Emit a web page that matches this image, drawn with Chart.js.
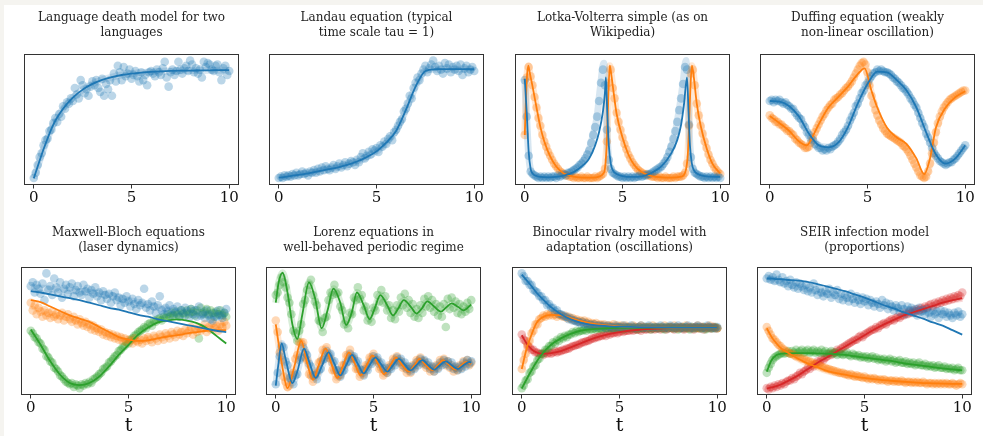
<!DOCTYPE html>
<html>
<head>
<meta charset="utf-8">
<script src="https://cdn.jsdelivr.net/npm/chart.js@4.4.1/dist/chart.umd.min.js"></script>
<style>
  html, body { margin: 0; padding: 0; background: #fff; }
  body { width: 983px; height: 436px; position: relative; overflow: hidden; }
  .strip { position: absolute; background: #f5f4f0; }
  canvas { position: absolute; }
</style>
</head>
<body>
<div class="strip" style="left:0;top:0;width:983px;height:5px"></div>
<div class="strip" style="left:0;top:0;width:4px;height:436px"></div>
<script>
// ---- shared axes ----
const xTicks = [0, 5, 10];
const tScatter = [0,0.1,0.2,0.3,0.4,0.5,0.6,0.7,0.8,0.9,1,1.1,1.2,1.3,1.4,1.5,1.6,1.7,1.8,1.9,
  2,2.1,2.2,2.3,2.4,2.5,2.6,2.7,2.8,2.9,3,3.1,3.2,3.3,3.4,3.5,3.6,3.7,3.8,3.9,
  4,4.1,4.2,4.3,4.4,4.5,4.6,4.7,4.8,4.9,5,5.1,5.2,5.3,5.4,5.5,5.6,5.7,5.8,5.9,
  6,6.1,6.2,6.3,6.4,6.5,6.6,6.7,6.8,6.9,7,7.1,7.2,7.3,7.4,7.5,7.6,7.7,7.8,7.9,
  8,8.1,8.2,8.3,8.4,8.5,8.6,8.7,8.8,8.9,9,9.1,9.2,9.3,9.4,9.5,9.6,9.7,9.8,9.9,10];
const tHalf = [0,0.5,1,1.5,2,2.5,3,3.5,4,4.5,5,5.5,6,6.5,7,7.5,8,8.5,9,9.5,10];

// ---- 1. language death ----
const langLine = [0.047,0.27,0.459,0.58,0.666,0.727,0.771,0.802,0.823,0.839,0.85,0.857,0.863,0.867,0.87,0.872,0.873,0.874,0.875,0.876,0.876];
const langPts = [0.05,0.09,0.15,0.21,0.24,0.30,0.34,0.35,0.41,0.42,
  0.47,0.51,0.48,0.54,0.52,0.60,0.58,0.63,0.62,0.66,
  0.64,0.74,0.69,0.66,0.80,0.76,0.70,0.73,0.68,0.75,
  0.79,0.76,0.80,0.74,0.71,0.81,0.68,0.77,0.73,0.80,
  0.68,0.85,0.79,0.91,0.86,0.80,0.90,0.83,0.85,0.88,
  0.81,0.84,0.87,0.83,0.79,0.86,0.80,0.84,0.76,0.86,
  0.87,0.85,0.83,0.88,0.86,0.84,0.89,0.94,0.82,0.75,
  0.86,0.88,0.84,0.87,0.94,0.88,0.85,0.89,0.91,0.87,
  0.95,0.92,0.86,0.89,0.85,0.88,0.82,0.94,0.90,0.93,
  0.92,0.88,0.87,0.91,0.92,0.86,0.80,0.89,0.91,0.84,0.87];

// ---- 2. Landau ----
const landauLine = [0.052,0.062,0.073,0.086,0.10,0.115,0.13,0.15,0.176,0.21,0.254,0.32,0.41,0.57,0.75,0.87,0.883,0.884,0.884,0.883,0.883];
const landauPts = [0.05,0.06,0.05,0.07,0.06,0.07,0.06,0.08,0.07,0.09,
  0.07,0.08,0.10,0.08,0.09,0.07,0.10,0.09,0.11,0.09,
  0.12,0.10,0.13,0.11,0.14,0.12,0.11,0.13,0.15,0.12,
  0.14,0.16,0.13,0.15,0.17,0.14,0.16,0.18,0.17,0.15,
  0.19,0.17,0.21,0.24,0.20,0.22,0.25,0.23,0.27,0.26,
  0.28,0.25,0.30,0.29,0.33,0.31,0.35,0.37,0.34,0.40,
  0.42,0.45,0.48,0.50,0.56,0.58,0.62,0.68,0.66,0.74,
  0.78,0.82,0.80,0.85,0.88,0.91,0.86,0.89,0.92,0.95,
  0.90,0.87,0.91,0.88,0.85,0.93,0.89,0.92,0.86,0.90,
  0.88,0.91,0.87,0.92,0.84,0.89,0.91,0.86,0.88,0.90,0.87];

// ---- 3. Lotka-Volterra ----
const lvPreyLineT = [0,0.1,0.2,0.3,0.4,0.6,0.8,1.2,1.6,2,2.5,3,3.3,3.6,3.8,4,4.1,4.15,4.22,4.3,4.4,4.5,4.7,5,5.5,6,6.5,7,7.5,7.8,8,8.15,8.3,8.38,8.45,8.55,8.65,8.85,9.2,10];
const lvPreyLine = [0.81,0.55,0.25,0.12,0.085,0.065,0.058,0.055,0.058,0.068,0.095,0.15,0.20,0.30,0.40,0.56,0.70,0.82,0.55,0.30,0.16,0.11,0.08,0.065,0.058,0.062,0.09,0.14,0.24,0.34,0.46,0.62,0.82,0.55,0.30,0.16,0.11,0.08,0.065,0.058];
const lvPreyBandT = [0,0.1,0.2,0.3,0.45,0.7,1.2,1.6,2,2.5,3,3.3,3.5,3.7,3.85,4.05,4.15,4.25,4.35,4.5,4.8,5.3,6,6.5,7,7.4,7.7,7.95,8.1,8.25,8.35,8.45,8.55,8.7,9,10];
const lvPreyBand = [0.81,0.50,0.22,0.11,0.075,0.06,0.055,0.06,0.075,0.11,0.18,0.27,0.38,0.52,0.72,0.93,0.60,0.28,0.14,0.09,0.065,0.055,0.06,0.085,0.13,0.25,0.40,0.62,0.78,0.95,0.62,0.30,0.15,0.09,0.065,0.055];
const lvPreyPts = [0.80,0.52,0.22,0.10,0.08,0.07,0.06,0.05,0.06,0.05,
  0.06,0.05,0.06,0.05,0.06,0.06,0.05,0.07,0.06,0.07,
  0.08,0.07,0.09,0.09,0.10,0.11,0.12,0.13,0.15,0.16,
  0.18,0.20,0.23,0.26,0.32,0.38,0.44,0.52,0.64,0.78,
  0.88,0.76,0.42,0.19,0.12,0.09,0.08,0.07,0.06,0.06,
  0.05,0.06,0.05,0.06,0.05,0.06,0.05,0.06,0.06,0.07,
  0.06,0.07,0.07,0.08,0.08,0.09,0.10,0.11,0.12,0.13,
  0.14,0.16,0.18,0.21,0.25,0.29,0.35,0.41,0.48,0.57,
  0.66,0.77,0.90,0.88,0.46,0.21,0.12,0.09,0.08,0.07,
  0.06,0.06,0.05,0.06,0.05,0.06,0.05,0.06,0.05,0.06,0.05];
const lvPredLineT = [0,0.05,0.1,0.18,0.25,0.4,0.6,0.8,1,1.3,1.6,2,2.5,3,3.5,3.8,4,4.1,4.2,4.28,4.35,4.42,4.55,4.7,5,5.3,5.6,6,6.5,7,7.5,8,8.2,8.35,8.45,8.55,8.65,8.8,9,9.3,9.6,10];
const lvPredLine = [0.38,0.60,0.80,0.91,0.86,0.75,0.59,0.44,0.33,0.215,0.14,0.085,0.06,0.052,0.052,0.06,0.08,0.12,0.33,0.70,0.91,0.85,0.70,0.54,0.36,0.23,0.15,0.093,0.065,0.055,0.053,0.06,0.09,0.25,0.65,0.91,0.82,0.62,0.45,0.28,0.16,0.085];
const lvPredPts = [0.38,0.82,0.90,0.83,0.76,0.67,0.59,0.51,0.45,0.38,
  0.33,0.29,0.25,0.22,0.19,0.16,0.14,0.12,0.10,0.09,
  0.08,0.07,0.07,0.06,0.06,0.05,0.06,0.05,0.05,0.06,
  0.05,0.05,0.06,0.05,0.05,0.05,0.06,0.05,0.06,0.07,
  0.08,0.12,0.33,0.78,0.88,0.74,0.66,0.55,0.48,0.42,
  0.36,0.31,0.27,0.23,0.20,0.17,0.15,0.13,0.11,0.10,
  0.09,0.08,0.08,0.07,0.07,0.06,0.06,0.06,0.05,0.06,
  0.05,0.05,0.06,0.05,0.05,0.05,0.06,0.05,0.06,0.06,
  0.06,0.07,0.09,0.16,0.45,0.85,0.88,0.76,0.62,0.53,
  0.45,0.39,0.33,0.28,0.23,0.19,0.16,0.13,0.11,0.09,0.08];

// ---- 4. Duffing ----
const duffXLine = [0.64,0.635,0.60,0.52,0.39,0.30,0.285,0.32,0.44,0.62,0.77,0.865,0.86,0.80,0.72,0.59,0.40,0.23,0.16,0.20,0.30];
const duffXPts = [0.64,0.65,0.63,0.65,0.64,0.65,0.63,0.62,0.63,0.61,
  0.60,0.58,0.58,0.55,0.53,0.51,0.50,0.46,0.44,0.40,
  0.38,0.35,0.34,0.31,0.30,0.28,0.28,0.26,0.27,0.26,
  0.28,0.27,0.29,0.30,0.31,0.33,0.35,0.38,0.40,0.42,
  0.45,0.49,0.52,0.55,0.60,0.62,0.66,0.70,0.72,0.76,
  0.78,0.81,0.83,0.85,0.86,0.88,0.87,0.88,0.87,0.86,
  0.86,0.85,0.84,0.82,0.81,0.79,0.78,0.76,0.74,0.73,
  0.71,0.69,0.66,0.64,0.61,0.59,0.55,0.51,0.47,0.44,
  0.39,0.36,0.32,0.28,0.24,0.22,0.20,0.18,0.17,0.16,
  0.15,0.16,0.17,0.17,0.19,0.20,0.22,0.24,0.26,0.28,0.30];
const duffVLineT = [0,0.5,1,1.5,1.9,2.2,2.5,3,3.5,4,4.5,4.85,5.2,5.5,6,6.5,7,7.5,7.9,8.2,8.5,9,9.5,10];
const duffVLine = [0.525,0.47,0.41,0.33,0.30,0.37,0.46,0.59,0.67,0.75,0.845,0.89,0.72,0.59,0.435,0.36,0.31,0.20,0.08,0.20,0.435,0.59,0.67,0.715];
const duffVBandT = [0,0.5,1,1.5,1.9,2.2,2.5,3,3.5,4,4.5,4.8,5.1,5.5,6,6.5,7,7.5,7.9,8.2,8.5,9,9.5,10];
const duffVBand = [0.53,0.47,0.41,0.33,0.28,0.36,0.46,0.59,0.67,0.75,0.88,0.94,0.76,0.53,0.39,0.34,0.27,0.13,0.05,0.16,0.40,0.61,0.68,0.72];
const duffVPts = [0.53,0.51,0.50,0.48,0.48,0.46,0.46,0.44,0.43,0.41,
  0.41,0.39,0.38,0.35,0.34,0.32,0.31,0.30,0.28,0.28,
  0.29,0.32,0.36,0.40,0.43,0.46,0.49,0.52,0.54,0.57,
  0.59,0.61,0.62,0.65,0.66,0.67,0.69,0.70,0.72,0.74,
  0.75,0.77,0.79,0.82,0.85,0.88,0.91,0.93,0.94,0.92,
  0.86,0.76,0.68,0.62,0.57,0.53,0.49,0.46,0.43,0.41,
  0.39,0.38,0.37,0.36,0.35,0.34,0.33,0.32,0.30,0.29,
  0.27,0.25,0.22,0.19,0.16,0.13,0.10,0.07,0.06,0.05,
  0.06,0.10,0.16,0.24,0.32,0.40,0.47,0.52,0.56,0.59,
  0.61,0.63,0.65,0.66,0.67,0.68,0.69,0.70,0.71,0.72,0.72];

// ---- 5. Maxwell-Bloch ----
const mbELine = [0.81,0.80,0.785,0.77,0.755,0.74,0.72,0.70,0.68,0.665,0.645,0.625,0.61,0.59,0.575,0.56,0.545,0.53,0.515,0.50,0.49];
const mbEBand = [0.84,0.835,0.83,0.822,0.815,0.808,0.80,0.79,0.78,0.76,0.74,0.72,0.70,0.683,0.665,0.652,0.64,0.632,0.625,0.622,0.62];
const mbEPts = [0.85,0.88,0.80,0.86,0.83,0.79,0.87,0.74,0.95,0.82,
  0.85,0.78,0.91,0.84,0.80,0.88,0.76,0.83,0.86,0.79,
  0.84,0.87,0.77,0.82,0.85,0.80,0.78,0.86,0.81,0.83,
  0.76,0.82,0.79,0.84,0.77,0.80,0.74,0.81,0.78,0.75,
  0.79,0.72,0.77,0.80,0.74,0.76,0.70,0.75,0.72,0.77,
  0.73,0.69,0.75,0.71,0.67,0.74,0.70,0.72,0.83,0.68,
  0.71,0.66,0.73,0.69,0.64,0.70,0.77,0.66,0.63,0.68,
  0.65,0.70,0.62,0.67,0.64,0.69,0.61,0.66,0.63,0.68,
  0.65,0.60,0.67,0.63,0.66,0.61,0.69,0.62,0.64,0.60,
  0.66,0.63,0.59,0.58,0.64,0.61,0.66,0.62,0.60,0.64,0.67];
const mbPLine = [0.74,0.725,0.69,0.655,0.62,0.595,0.57,0.53,0.49,0.45,0.43,0.42,0.425,0.44,0.455,0.465,0.48,0.49,0.50,0.505,0.505];
const mbPBand = [0.70,0.66,0.63,0.615,0.60,0.57,0.54,0.505,0.47,0.45,0.43,0.425,0.44,0.455,0.47,0.485,0.50,0.51,0.52,0.53,0.54];
const mbPPts = [0.72,0.66,0.70,0.63,0.68,0.65,0.61,0.66,0.62,0.64,
  0.60,0.65,0.61,0.63,0.59,0.62,0.64,0.58,0.61,0.63,
  0.59,0.57,0.61,0.58,0.55,0.59,0.56,0.54,0.57,0.53,
  0.55,0.51,0.54,0.50,0.52,0.49,0.51,0.47,0.49,0.46,
  0.48,0.45,0.47,0.44,0.46,0.43,0.45,0.42,0.44,0.41,
  0.43,0.42,0.40,0.44,0.42,0.41,0.43,0.40,0.44,0.42,
  0.45,0.43,0.41,0.46,0.44,0.42,0.47,0.45,0.43,0.48,
  0.46,0.44,0.49,0.47,0.45,0.50,0.47,0.49,0.46,0.51,
  0.48,0.50,0.53,0.47,0.51,0.49,0.53,0.50,0.52,0.55,
  0.49,0.53,0.51,0.56,0.52,0.54,0.50,0.55,0.53,0.57,0.54];
const mbDLine = [0.51,0.39,0.26,0.155,0.09,0.073,0.09,0.14,0.22,0.31,0.39,0.47,0.525,0.565,0.58,0.59,0.58,0.56,0.52,0.46,0.40];
const mbDBand = [0.50,0.40,0.27,0.16,0.085,0.07,0.09,0.15,0.24,0.33,0.41,0.48,0.54,0.58,0.61,0.63,0.64,0.645,0.64,0.635,0.63];
const mbDPts = [0.50,0.48,0.45,0.44,0.41,0.40,0.36,0.35,0.30,0.29,
  0.26,0.25,0.21,0.20,0.18,0.15,0.14,0.12,0.10,0.09,
  0.08,0.09,0.06,0.08,0.07,0.05,0.08,0.07,0.09,0.08,
  0.10,0.09,0.12,0.13,0.14,0.16,0.17,0.20,0.21,0.22,
  0.25,0.26,0.28,0.30,0.31,0.34,0.35,0.37,0.38,0.41,
  0.40,0.43,0.44,0.46,0.47,0.49,0.50,0.51,0.53,0.52,
  0.55,0.56,0.54,0.58,0.57,0.59,0.60,0.58,0.61,0.60,
  0.63,0.61,0.64,0.62,0.65,0.63,0.61,0.66,0.64,0.62,
  0.66,0.63,0.67,0.65,0.62,0.66,0.44,0.68,0.63,0.65,
  0.67,0.62,0.66,0.64,0.61,0.65,0.63,0.66,0.62,0.64,0.61];

// ---- 6. Lorenz ----
const lzXLineT = [0,0.12,0.3,0.5,0.85,1.1,1.45,1.7,2.05,2.35,2.7,3,3.3,3.6,3.9,4.2,4.5,4.8,5.1,5.4,5.7,6,6.3,6.6,6.9,7.2,7.5,7.8,8.1,8.4,8.7,9,9.3,9.6,9.9,10];
const lzXLine = [0.07,0.22,0.40,0.28,0.09,0.18,0.36,0.26,0.13,0.22,0.33,0.24,0.15,0.23,0.31,0.24,0.165,0.23,0.29,0.235,0.18,0.23,0.28,0.235,0.19,0.23,0.27,0.23,0.195,0.23,0.26,0.23,0.20,0.23,0.255,0.25];
const lzXPts = [0.08,0.17,0.30,0.38,0.37,0.26,0.23,0.13,0.12,0.08,
  0.15,0.16,0.27,0.29,0.37,0.33,0.31,0.24,0.22,0.15,
  0.15,0.12,0.19,0.20,0.27,0.28,0.34,0.31,0.32,0.25,
  0.26,0.19,0.19,0.14,0.18,0.19,0.25,0.26,0.32,0.29,
  0.30,0.25,0.26,0.20,0.19,0.15,0.20,0.19,0.25,0.24,
  0.30,0.27,0.29,0.24,0.25,0.20,0.21,0.17,0.21,0.20,
  0.25,0.23,0.29,0.26,0.28,0.23,0.25,0.20,0.22,0.18,
  0.22,0.20,0.25,0.23,0.28,0.25,0.27,0.23,0.25,0.20,
  0.22,0.18,0.22,0.20,0.25,0.23,0.27,0.24,0.26,0.22,
  0.25,0.20,0.22,0.19,0.22,0.20,0.25,0.22,0.27,0.24,0.26];
const lzYLineT = [0,0.3,0.6,0.95,1.3,1.6,1.9,2.2,2.55,2.85,3.15,3.45,3.75,4.05,4.35,4.65,4.95,5.25,5.55,5.85,6.15,6.45,6.8,7.1,7.35,7.65,8,8.3,8.55,8.85,9.2,9.5,9.75,10];
const lzYLine = [0.55,0.25,0.05,0.22,0.42,0.25,0.115,0.23,0.36,0.24,0.13,0.23,0.33,0.24,0.15,0.23,0.305,0.235,0.16,0.225,0.29,0.235,0.18,0.23,0.28,0.235,0.19,0.23,0.27,0.235,0.195,0.23,0.255,0.24];
const lzYPts = [0.58,0.49,0.33,0.27,0.14,0.10,0.06,0.07,0.15,0.17,
  0.28,0.31,0.41,0.40,0.41,0.29,0.27,0.16,0.15,0.10,
  0.16,0.17,0.25,0.26,0.35,0.33,0.37,0.29,0.28,0.19,
  0.19,0.12,0.15,0.15,0.23,0.23,0.31,0.30,0.35,0.28,
  0.28,0.20,0.20,0.14,0.17,0.16,0.23,0.22,0.29,0.28,
  0.32,0.26,0.27,0.20,0.21,0.15,0.18,0.17,0.23,0.22,
  0.28,0.27,0.30,0.25,0.26,0.21,0.22,0.17,0.20,0.17,
  0.23,0.21,0.27,0.26,0.29,0.24,0.26,0.21,0.23,0.18,
  0.21,0.18,0.23,0.21,0.27,0.25,0.28,0.23,0.26,0.21,
  0.23,0.18,0.21,0.19,0.23,0.21,0.26,0.24,0.27,0.23,0.25];
const lzZLineT = [0,0.15,0.35,0.6,0.85,1.1,1.35,1.7,2,2.35,2.65,2.95,3.3,3.6,3.9,4.15,4.5,4.8,5.05,5.35,5.7,6,6.25,6.55,6.9,7.2,7.45,7.75,8.1,8.45,8.7,9,9.3,9.6,10];
const lzZLine = [0.72,0.88,0.955,0.80,0.55,0.435,0.62,0.88,0.76,0.52,0.66,0.83,0.72,0.545,0.65,0.80,0.70,0.59,0.67,0.78,0.70,0.62,0.67,0.74,0.69,0.635,0.67,0.73,0.69,0.65,0.68,0.714,0.69,0.66,0.706];
const lzZPts = [0.78,0.80,0.86,0.92,0.88,0.84,0.76,0.72,0.63,0.50,
  0.48,0.42,0.50,0.55,0.71,0.74,0.82,0.86,0.90,0.78,
  0.73,0.70,0.58,0.57,0.49,0.60,0.61,0.74,0.80,0.78,
  0.86,0.79,0.80,0.69,0.66,0.55,0.58,0.52,0.64,0.63,
  0.76,0.74,0.84,0.75,0.78,0.66,0.69,0.58,0.63,0.57,
  0.68,0.66,0.78,0.73,0.82,0.72,0.77,0.66,0.70,0.60,
  0.66,0.59,0.70,0.65,0.76,0.70,0.79,0.68,0.74,0.64,
  0.71,0.61,0.67,0.60,0.70,0.64,0.75,0.69,0.77,0.68,
  0.74,0.65,0.71,0.62,0.69,0.61,0.71,0.53,0.75,0.67,
  0.76,0.68,0.73,0.64,0.71,0.63,0.69,0.65,0.72,0.67,0.74];

// ---- 7. Binocular rivalry ----
const binoT = [0,0.25,0.5,0.75,1,1.5,2,2.5,3,3.5,4,4.5,5,6,7,8,9,10];
const binoR1Line = [0.94,0.895,0.85,0.80,0.76,0.685,0.63,0.59,0.563,0.548,0.54,0.535,0.532,0.528,0.526,0.525,0.525,0.525];
const binoR2Line = [0.20,0.36,0.47,0.56,0.60,0.625,0.62,0.60,0.578,0.56,0.548,0.54,0.535,0.53,0.527,0.525,0.525,0.525];
const binoA1Line = [0.047,0.12,0.19,0.255,0.31,0.39,0.44,0.475,0.50,0.51,0.517,0.52,0.522,0.524,0.525,0.525,0.525,0.525];
const binoA2Line = [0.465,0.40,0.355,0.33,0.32,0.325,0.34,0.37,0.40,0.43,0.455,0.475,0.49,0.508,0.517,0.522,0.524,0.525];
const binoR1Pts = [0.95,0.93,0.89,0.89,0.86,0.86,0.82,0.81,0.80,0.77,
  0.77,0.74,0.74,0.70,0.71,0.68,0.68,0.65,0.66,0.63,
  0.63,0.62,0.61,0.61,0.59,0.60,0.58,0.58,0.57,0.57,
  0.56,0.57,0.55,0.56,0.54,0.55,0.54,0.55,0.53,0.54,
  0.54,0.53,0.54,0.52,0.54,0.53,0.53,0.52,0.54,0.53,
  0.53,0.52,0.54,0.53,0.52,0.53,0.54,0.52,0.53,0.52,
  0.53,0.54,0.52,0.53,0.52,0.54,0.53,0.52,0.53,0.53,
  0.52,0.54,0.53,0.52,0.53,0.52,0.54,0.53,0.52,0.53,
  0.54,0.52,0.53,0.52,0.53,0.54,0.52,0.53,0.52,0.53,
  0.54,0.53,0.52,0.53,0.52,0.54,0.53,0.52,0.53,0.52,0.53];
const binoR2Pts = [0.20,0.27,0.32,0.39,0.42,0.48,0.50,0.55,0.55,0.59,
  0.60,0.62,0.61,0.63,0.62,0.64,0.62,0.63,0.61,0.63,
  0.62,0.61,0.62,0.60,0.61,0.59,0.60,0.58,0.59,0.57,
  0.58,0.57,0.58,0.56,0.57,0.55,0.56,0.55,0.56,0.54,
  0.55,0.54,0.55,0.53,0.54,0.54,0.53,0.55,0.53,0.54,
  0.53,0.54,0.52,0.54,0.53,0.53,0.52,0.54,0.53,0.52,
  0.53,0.54,0.53,0.52,0.53,0.53,0.52,0.54,0.52,0.53,
  0.53,0.52,0.53,0.54,0.52,0.53,0.53,0.52,0.54,0.53,
  0.52,0.53,0.53,0.52,0.54,0.52,0.53,0.53,0.52,0.53,
  0.54,0.52,0.53,0.53,0.52,0.53,0.54,0.52,0.53,0.53,0.52];
const binoA1Pts = [0.05,0.07,0.11,0.12,0.17,0.18,0.22,0.23,0.27,0.28,
  0.32,0.32,0.35,0.35,0.38,0.38,0.41,0.40,0.43,0.42,
  0.45,0.44,0.46,0.45,0.47,0.47,0.49,0.48,0.50,0.49,
  0.50,0.50,0.51,0.50,0.52,0.51,0.51,0.52,0.51,0.52,
  0.52,0.51,0.53,0.52,0.52,0.53,0.51,0.52,0.53,0.52,
  0.52,0.53,0.51,0.52,0.53,0.52,0.52,0.53,0.52,0.51,
  0.53,0.52,0.52,0.53,0.52,0.53,0.51,0.52,0.53,0.52,
  0.52,0.53,0.52,0.51,0.53,0.52,0.53,0.52,0.52,0.53,
  0.51,0.52,0.53,0.52,0.53,0.52,0.51,0.53,0.52,0.52,
  0.53,0.52,0.52,0.53,0.51,0.52,0.53,0.52,0.52,0.53,0.52];
const binoA2Pts = [0.47,0.43,0.42,0.38,0.37,0.35,0.35,0.33,0.33,0.32,
  0.32,0.31,0.33,0.32,0.33,0.32,0.33,0.34,0.33,0.34,
  0.34,0.35,0.35,0.36,0.36,0.37,0.38,0.38,0.39,0.39,
  0.40,0.41,0.41,0.42,0.42,0.43,0.44,0.44,0.45,0.45,
  0.46,0.46,0.47,0.46,0.48,0.47,0.48,0.48,0.49,0.48,
  0.49,0.50,0.49,0.50,0.50,0.50,0.51,0.50,0.51,0.51,
  0.51,0.50,0.52,0.51,0.51,0.52,0.51,0.52,0.51,0.52,
  0.52,0.51,0.52,0.52,0.51,0.52,0.53,0.52,0.51,0.52,
  0.52,0.53,0.52,0.51,0.52,0.53,0.52,0.52,0.51,0.53,
  0.52,0.52,0.53,0.51,0.52,0.53,0.52,0.52,0.53,0.52,0.52];

// ---- 8. SEIR ----
const seirT = [0,0.25,0.5,0.75,1,1.5,2,2.5,3,3.5,4,4.5,5,5.5,6,6.5,7,7.5,8,8.5,9,9.5,10];
const seirSLine = [0.91,0.91,0.905,0.905,0.90,0.895,0.885,0.87,0.85,0.83,0.81,0.785,0.76,0.73,0.70,0.675,0.645,0.62,0.595,0.565,0.54,0.505,0.47];
const seirSBand = [0.91,0.89,0.87,0.85,0.83,0.81,0.79,0.775,0.76,0.745,0.73,0.715,0.70,0.685,0.67,0.66,0.65,0.64,0.63,0.63,0.63];
const seirELine = [0.52,0.45,0.40,0.36,0.335,0.29,0.25,0.22,0.19,0.17,0.155,0.14,0.13,0.12,0.113,0.106,0.10,0.095,0.09,0.088,0.086,0.084,0.083];
const seirILine = [0.18,0.27,0.31,0.32,0.322,0.325,0.325,0.323,0.32,0.316,0.31,0.30,0.29,0.28,0.27,0.26,0.245,0.235,0.225,0.215,0.205,0.197,0.19];
const seirRLine = [0.047,0.055,0.065,0.08,0.10,0.14,0.19,0.24,0.285,0.33,0.375,0.42,0.465,0.51,0.55,0.585,0.62,0.645,0.67,0.695,0.72,0.74,0.755];
const seirSPts = [0.91,0.93,0.90,0.92,0.89,0.94,0.90,0.88,0.92,0.87,
  0.89,0.85,0.90,0.86,0.84,0.88,0.83,0.87,0.85,0.82,
  0.86,0.81,0.84,0.80,0.87,0.82,0.78,0.83,0.80,0.77,
  0.81,0.79,0.83,0.76,0.80,0.78,0.82,0.75,0.79,0.74,
  0.78,0.76,0.73,0.79,0.75,0.72,0.77,0.74,0.71,0.76,
  0.73,0.75,0.70,0.74,0.72,0.69,0.73,0.71,0.68,0.74,
  0.70,0.72,0.67,0.71,0.69,0.66,0.70,0.68,0.65,0.70,
  0.67,0.63,0.69,0.66,0.68,0.64,0.67,0.62,0.68,0.65,
  0.66,0.63,0.67,0.64,0.61,0.66,0.63,0.65,0.60,0.66,
  0.63,0.65,0.61,0.64,0.62,0.60,0.64,0.62,0.65,0.61,0.63];
const seirEPts = [0.53,0.50,0.47,0.44,0.43,0.41,0.39,0.38,0.36,0.35,
  0.34,0.33,0.32,0.32,0.31,0.30,0.30,0.29,0.28,0.28,
  0.27,0.26,0.26,0.25,0.24,0.24,0.23,0.23,0.22,0.21,
  0.21,0.20,0.20,0.19,0.19,0.18,0.18,0.17,0.17,0.17,
  0.16,0.16,0.15,0.16,0.15,0.14,0.15,0.14,0.14,0.13,
  0.14,0.13,0.12,0.13,0.12,0.13,0.12,0.11,0.12,0.11,
  0.12,0.11,0.10,0.11,0.11,0.10,0.11,0.10,0.10,0.11,
  0.10,0.09,0.10,0.10,0.09,0.10,0.09,0.10,0.09,0.09,
  0.10,0.09,0.08,0.09,0.09,0.08,0.09,0.08,0.09,0.08,
  0.09,0.08,0.09,0.08,0.08,0.09,0.08,0.07,0.08,0.09,0.08];
const seirIPts = [0.17,0.21,0.24,0.27,0.29,0.30,0.31,0.32,0.33,0.32,
  0.33,0.34,0.32,0.34,0.33,0.35,0.33,0.34,0.35,0.33,
  0.34,0.35,0.33,0.34,0.35,0.33,0.34,0.33,0.35,0.33,
  0.34,0.32,0.33,0.34,0.32,0.33,0.31,0.33,0.32,0.31,
  0.32,0.33,0.31,0.30,0.32,0.31,0.30,0.31,0.29,0.30,
  0.29,0.30,0.28,0.29,0.30,0.28,0.29,0.27,0.28,0.27,
  0.28,0.26,0.27,0.28,0.26,0.27,0.25,0.26,0.27,0.25,
  0.25,0.26,0.24,0.25,0.24,0.25,0.23,0.24,0.25,0.23,
  0.23,0.24,0.22,0.23,0.22,0.23,0.21,0.22,0.23,0.21,
  0.21,0.22,0.20,0.21,0.20,0.21,0.19,0.20,0.21,0.19,0.19];
const seirRPts = [0.05,0.04,0.06,0.05,0.07,0.06,0.08,0.07,0.09,0.08,
  0.10,0.11,0.11,0.13,0.12,0.14,0.15,0.17,0.16,0.18,
  0.19,0.21,0.20,0.23,0.22,0.24,0.26,0.25,0.28,0.27,
  0.29,0.30,0.32,0.31,0.33,0.33,0.35,0.34,0.36,0.37,
  0.38,0.39,0.40,0.41,0.42,0.43,0.43,0.45,0.46,0.45,
  0.47,0.48,0.49,0.50,0.51,0.51,0.53,0.52,0.54,0.55,
  0.56,0.55,0.57,0.58,0.59,0.58,0.60,0.61,0.60,0.62,
  0.62,0.64,0.63,0.65,0.64,0.66,0.65,0.67,0.66,0.68,
  0.67,0.69,0.68,0.70,0.71,0.69,0.72,0.71,0.73,0.72,
  0.74,0.73,0.75,0.74,0.76,0.75,0.77,0.76,0.78,0.77,0.80];

// ---- colours (matplotlib tab10) ----
const BLUE = [31, 119, 180], ORANGE = [255, 127, 14], GREEN = [44, 160, 44], RED = [214, 39, 40];
const rgba = (c, a) => `rgba(${c[0]},${c[1]},${c[2]},${a})`;

const panels = [
  { title: ['Language death model for two', 'languages'],
    series: [{ c: BLUE, pts: langPts, lineT: tHalf, line: langLine }] },
  { title: ['Landau equation (typical', 'time scale tau = 1)'],
    series: [{ c: BLUE, pts: landauPts, lineT: tHalf, line: landauLine }] },
  { title: ['Lotka-Volterra simple (as on', 'Wikipedia)'],
    series: [
      { c: BLUE, pts: lvPreyPts, lineT: lvPreyLineT, line: lvPreyLine, bandT: lvPreyBandT, band: lvPreyBand },
      { c: ORANGE, pts: lvPredPts, lineT: lvPredLineT, line: lvPredLine }] },
  { title: ['Duffing equation (weakly', 'non-linear oscillation)'],
    series: [
      { c: BLUE, pts: duffXPts, lineT: tHalf, line: duffXLine },
      { c: ORANGE, pts: duffVPts, lineT: duffVLineT, line: duffVLine, bandT: duffVBandT, band: duffVBand }] },
  { title: ['Maxwell-Bloch equations', '(laser dynamics)'],
    series: [
      { c: BLUE, pts: mbEPts, lineT: tHalf, line: mbELine, bandT: tHalf, band: mbEBand },
      { c: ORANGE, pts: mbPPts, lineT: tHalf, line: mbPLine, bandT: tHalf, band: mbPBand },
      { c: GREEN, pts: mbDPts, lineT: tHalf, line: mbDLine, bandT: tHalf, band: mbDBand }] },
  { title: ['Lorenz equations in', 'well-behaved periodic regime'],
    series: [
      { c: BLUE, pts: lzXPts, lineT: lzXLineT, line: lzXLine },
      { c: ORANGE, pts: lzYPts, lineT: lzYLineT, line: lzYLine },
      { c: GREEN, pts: lzZPts, lineT: lzZLineT, line: lzZLine }] },
  { title: ['Binocular rivalry model with', 'adaptation (oscillations)'],
    series: [
      { c: BLUE, pts: binoR1Pts, lineT: binoT, line: binoR1Line },
      { c: ORANGE, pts: binoR2Pts, lineT: binoT, line: binoR2Line },
      { c: GREEN, pts: binoA1Pts, lineT: binoT, line: binoA1Line },
      { c: RED, pts: binoA2Pts, lineT: binoT, line: binoA2Line }] },
  { title: ['SEIR infection model', '(proportions)'],
    series: [
      { c: BLUE, pts: seirSPts, lineT: seirT, line: seirSLine, bandT: tHalf, band: seirSBand },
      { c: ORANGE, pts: seirEPts, lineT: seirT, line: seirELine },
      { c: GREEN, pts: seirIPts, lineT: seirT, line: seirILine },
      { c: RED, pts: seirRPts, lineT: seirT, line: seirRLine }] }
];

// ---- layout (axes boxes in page pixels) ----
const rowTop = [0, 212], rowH = [212, 224];
const boxLeft = [[24, 269, 515, 760], [21, 266, 512, 757]];
const boxW = 215, sidePad = 20;

const zip = (ts, vs) => vs.map((v, i) => ({ x: ts[i], y: v }));

const boxPlugin = {
  id: 'axesBox',
  afterDatasetsDraw(chart) {
    const a = chart.chartArea, ctx = chart.ctx;
    ctx.save();
    ctx.strokeStyle = '#333';
    ctx.lineWidth = 1;
    ctx.strokeRect(Math.round(a.left) + 0.5, Math.round(a.top) + 0.5,
                   Math.round(a.right) - Math.round(a.left) - 1, Math.round(a.bottom) - Math.round(a.top) - 1);
    ctx.restore();
  }
};

panels.forEach((p, i) => {
  const row = Math.floor(i / 4), col = i % 4;
  const cv = document.createElement('canvas');
  const w = boxW + 2 * sidePad, h = rowH[row];
  cv.width = w; cv.height = h;
  cv.style.left = (boxLeft[row][col] - sidePad) + 'px';
  cv.style.top = rowTop[row] + 'px';
  document.body.appendChild(cv);

  const datasets = [];
  p.series.forEach(s => {
    datasets.push({ type: 'line', data: zip(s.lineT, s.line), borderColor: rgba(s.c, 1), borderWidth: 1.8,
      pointRadius: 0, cubicInterpolationMode: 'monotone', order: 1, clip: 0 });
    datasets.push({ type: 'line', data: zip(s.bandT || s.lineT, s.band || s.line), borderColor: rgba(s.c, 0.18),
      borderWidth: 7, pointRadius: 0, cubicInterpolationMode: 'monotone', order: 2, clip: 0 });
    datasets.push({ type: 'scatter', data: zip(tScatter, s.pts), backgroundColor: rgba(s.c, 0.3),
      borderWidth: 0, pointRadius: 4.3, order: 3, clip: 0 });
  });

  new Chart(cv, {
    type: 'scatter',
    data: { datasets },
    plugins: [boxPlugin],
    options: {
      responsive: false,
      animation: false,
      events: [],
      layout: { padding: { left: sidePad, right: sidePad, top: row ? 8 : 5, bottom: row ? 0 : 5 } },
      plugins: {
        legend: { display: false },
        tooltip: { enabled: false },
        title: {
          display: true, text: p.title, color: '#222',
          font: { family: 'DejaVu Serif', size: 12, weight: 'normal', lineHeight: 1.25 },
          padding: { top: 5, bottom: row ? 12 : 14 }
        }
      },
      scales: {
        x: {
          type: 'linear', min: -0.5, max: 10.5,
          afterBuildTicks: s => { s.ticks = xTicks.map(v => ({ value: v })); },
          grid: { display: true, drawOnChartArea: false, drawTicks: true, tickLength: 4, color: '#333' },
          border: { display: false },
          ticks: { color: '#111', padding: 1, maxRotation: 0,
                   font: { family: 'DejaVu Serif', size: 15, lineHeight: 1.1 } },
          title: { display: row === 1, text: 't', color: '#111', padding: 0,
                   font: { family: 'DejaVu Serif', size: 19, lineHeight: 1 } }
        },
        y: { display: false, min: 0, max: 1 }
      }
    }
  });
});
</script>
</body>
</html>
